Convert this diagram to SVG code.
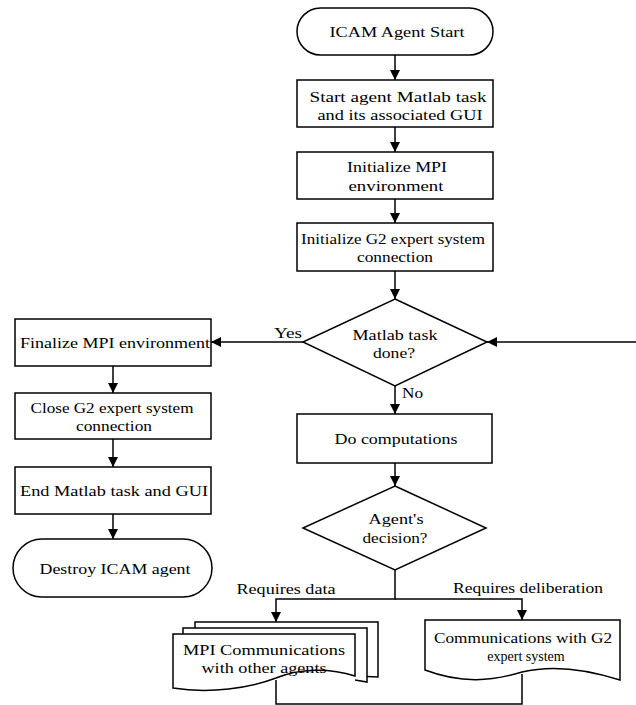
<svg xmlns="http://www.w3.org/2000/svg" width="636" height="705" viewBox="0 0 636 705">
<defs>
<marker id="ah" markerWidth="10" markerHeight="10" refX="10" refY="5" orient="auto" markerUnits="userSpaceOnUse">
<path d="M0,0 L10,5 L0,10 Z" fill="#000"/>
</marker>
<style>
.s{fill:#fff;stroke:#000;stroke-width:1.5}
.c{fill:none;stroke:#000;stroke-width:1.5}
.a{marker-end:url(#ah)}
text{font-family:"Liberation Serif","Times New Roman",serif;font-size:14px;fill:#000;text-anchor:middle}
.l{text-anchor:start}
</style>
</defs>
<rect width="636" height="705" fill="#fff"/>
<g id="connectors">
<path class="c a" d="M395,55 V80"/>
<path class="c a" d="M395,127 V152"/>
<path class="c a" d="M395,199 V223"/>
<path class="c a" d="M395,271 V299"/>
<path class="c a" d="M303,342 H211"/>
<path class="c a" d="M636,342 H487"/>
<path class="c a" d="M395,386 V414"/>
<path class="c a" d="M395,463 V486"/>
<path class="c a" d="M113,366 V393"/>
<path class="c a" d="M113,439 V467"/>
<path class="c a" d="M113,514 V539"/>
<path class="c a" d="M395,570 V599 H276 V622"/>
<path class="c a" d="M395,599 H522 V620"/>
<path class="c" d="M276,680 V704 H522 V674"/>
<text class="l" x="274" y="338" textLength="28" lengthAdjust="spacingAndGlyphs">Yes</text>
<text class="l" x="402" y="398" textLength="21" lengthAdjust="spacingAndGlyphs">No</text>
<text x="286" y="594" textLength="99" lengthAdjust="spacingAndGlyphs">Requires data</text>
<text x="528" y="593" textLength="150" lengthAdjust="spacingAndGlyphs">Requires deliberation</text>
</g>
<g id="start">
<rect class="s" x="297" y="8" width="196" height="47" rx="23.5"/>
<text x="397" y="37" textLength="135" lengthAdjust="spacingAndGlyphs">ICAM Agent Start</text>
</g>
<g id="start-task">
<rect class="s" x="297" y="80" width="196" height="47"/>
<text x="398" y="102" textLength="177" lengthAdjust="spacingAndGlyphs">Start agent Matlab task</text>
<text x="400" y="120" textLength="165" lengthAdjust="spacingAndGlyphs">and its associated GUI</text>
</g>
<g id="init-mpi">
<rect class="s" x="297" y="152" width="196" height="47"/>
<text x="397" y="172" textLength="100" lengthAdjust="spacingAndGlyphs">Initialize MPI</text>
<text x="396" y="191" textLength="95" lengthAdjust="spacingAndGlyphs">environment</text>
</g>
<g id="init-g2">
<rect class="s" x="297" y="223" width="196" height="48"/>
<text x="393" y="244" textLength="184" lengthAdjust="spacingAndGlyphs">Initialize G2 expert system</text>
<text x="395" y="262" textLength="76" lengthAdjust="spacingAndGlyphs">connection</text>
</g>
<g id="task-done">
<path class="s" d="M395,299 L487,342 L395,386 L303,342 Z"/>
<text x="395" y="340" textLength="85" lengthAdjust="spacingAndGlyphs">Matlab task</text>
<text x="394" y="358" textLength="42" lengthAdjust="spacingAndGlyphs">done?</text>
</g>
<g id="finalize-mpi">
<rect class="s" x="15" y="319" width="196" height="47"/>
<text x="115" y="348" textLength="190" lengthAdjust="spacingAndGlyphs">Finalize MPI environment</text>
</g>
<g id="close-g2">
<rect class="s" x="15" y="393" width="196" height="46"/>
<text x="112" y="413" textLength="163" lengthAdjust="spacingAndGlyphs">Close G2 expert system</text>
<text x="114" y="431" textLength="76" lengthAdjust="spacingAndGlyphs">connection</text>
</g>
<g id="end-task">
<rect class="s" x="15" y="467" width="196" height="47"/>
<text x="114" y="496" textLength="188" lengthAdjust="spacingAndGlyphs">End Matlab task and GUI</text>
</g>
<g id="destroy">
<rect class="s" x="13" y="539" width="199" height="58" rx="29"/>
<text x="115" y="574" textLength="151" lengthAdjust="spacingAndGlyphs">Destroy ICAM agent</text>
</g>
<g id="compute">
<rect class="s" x="297" y="414" width="195" height="49"/>
<text x="396" y="444" textLength="123" lengthAdjust="spacingAndGlyphs">Do computations</text>
</g>
<g id="decision">
<path class="s" d="M395,486 L486,528 L395,570 L303,528 Z"/>
<text x="396" y="524" textLength="55" lengthAdjust="spacingAndGlyphs">Agent's</text>
<text x="395" y="543" textLength="65" lengthAdjust="spacingAndGlyphs">decision?</text>
</g>
<g id="mpi-comm">
<path class="s" d="M195,634 V622 H378 V677 L355,676"/>
<path class="s" d="M183,634 V628 H367 V682 L355,680"/>
<path class="s" d="M173,634 H355 V676 C330,668 300,668 276,678 C250,688 210,694 173,688 Z"/>
<text x="264" y="655" textLength="162" lengthAdjust="spacingAndGlyphs">MPI Communications</text>
<text x="264" y="673" textLength="125" lengthAdjust="spacingAndGlyphs">with other agents</text>
</g>
<g id="g2-comm">
<path class="s" d="M425,620 H620 V680 C592,671 555,664 522,672 C492,681 462,684 425,670 Z"/>
<text x="523" y="643" textLength="178" lengthAdjust="spacingAndGlyphs">Communications with G2</text>
<text x="526" y="661">expert system</text>
</g>
</svg>
